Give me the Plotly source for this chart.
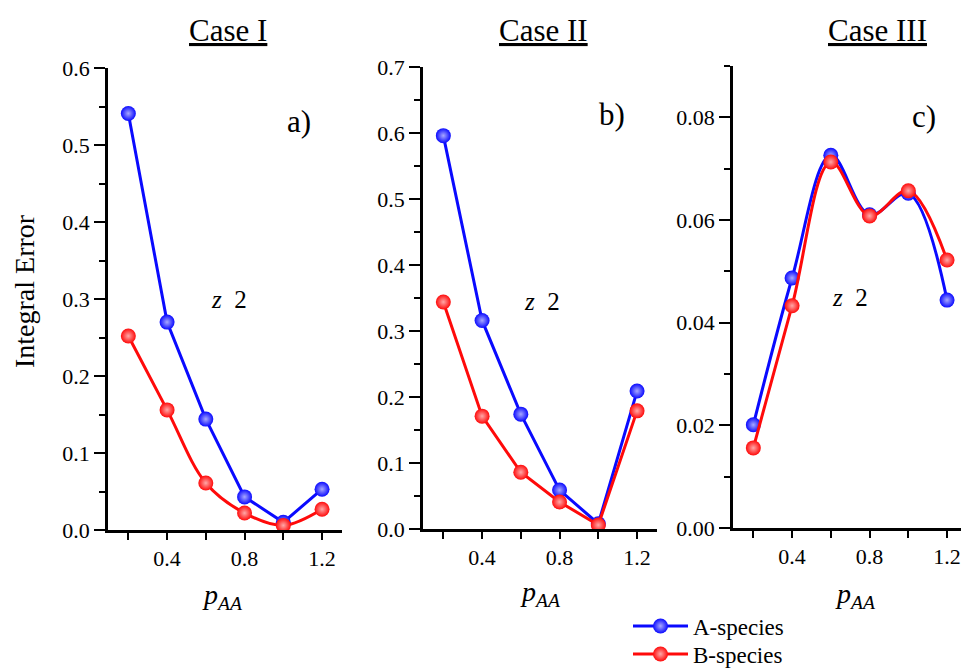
import plotly.graph_objects as go

# ---------------- data ----------------
p_AA = [0.2, 0.4, 0.6, 0.8, 1.0, 1.2]
case1_A = [0.541, 0.270, 0.144, 0.043, 0.010, 0.053]
case1_B = [0.252, 0.156, 0.061, 0.022, 0.006, 0.027]
case2_A = [0.596, 0.316, 0.174, 0.059, 0.008, 0.209]
case2_B = [0.344, 0.171, 0.086, 0.041, 0.006, 0.179]
case3_A = [0.0201, 0.0487, 0.0726, 0.0610, 0.0652, 0.0444]
case3_B = [0.0156, 0.0433, 0.0713, 0.0608, 0.0657, 0.0522]
x_tick_vals = [0.4, 0.8, 1.2]
x_tick_text = ["0.4", "0.8", "1.2"]
x_minor_vals = [0.2, 0.6, 1.0]
case_titles = ["Case I", "Case II", "Case III"]
panel_tags = ["a)", "b)", "c)"]
series_names = ["A-species", "B-species"]

W, H = 961, 670
FONT = "Liberation Serif, Times New Roman, Times, serif"
BLUE = "#0a0aff"
RED = "#ff0a0a"

panels = [
    dict(A=case1_A, B=case1_B, shapeA="linear", shapeB="spline",
         xpx=(108, 342), ypx=(68, 530), yr=(0, 0.6), dt=0.1, mdt=0.05, fmt=".1f",
         xr=(0.095, 1.303), rline=True),
    dict(A=case2_A, B=case2_B, shapeA="linear", shapeB="linear",
         xpx=(423, 657), ypx=(67, 529), yr=(0, 0.7), dt=0.1, mdt=0.05, fmt=".1f",
         xr=(0.095, 1.303), rline=True),
    dict(A=case3_A, B=case3_B, shapeA="spline", shapeB="spline",
         xpx=(733, 961), ypx=(66, 528), yr=(0, 0.09), dt=0.02, mdt=0.01, fmt=".2f",
         xr=(0.095, 1.272), rline=False),
]

fig = go.Figure()
layout = {}
tickfont = dict(family=FONT, size=22, color="black")

for i, p in enumerate(panels):
    n = i + 1
    xb, yl = f"x{n}", f"y{n}"
    xdom = [p["xpx"][0] / W, p["xpx"][1] / W]
    ydom = [1 - p["ypx"][1] / H, 1 - p["ypx"][0] / H]
    common = dict(showgrid=False, zeroline=False, linecolor="black", linewidth=2.5,
                  tickcolor="black", tickwidth=2, automargin=False)
    layout[f"xaxis{n}"] = dict(domain=xdom, range=list(p["xr"]), anchor=yl,
                               tickmode="array", tickvals=x_tick_vals, ticktext=x_tick_text,
                               ticks="outside", ticklen=7, showline=True, tickfont=tickfont,
                               minor=dict(tickmode="array", tickvals=x_minor_vals, ticks="outside",
                                          ticklen=7, tickwidth=2, tickcolor="black"),
                               **common)
    layout[f"xaxis{n+3}"] = dict(overlaying=xb, side="top", range=list(p["xr"]), anchor=yl,
                                 tickmode="array", tickvals=x_tick_vals, showticklabels=False,
                                 ticks="inside", ticklen=11, showline=True,
                                 minor=dict(tickmode="array", tickvals=x_minor_vals, ticks="inside",
                                            ticklen=11, tickwidth=2, tickcolor="black"),
                                 **common)
    layout[f"yaxis{n}"] = dict(domain=ydom, range=list(p["yr"]), anchor=xb,
                               tick0=0, dtick=p["dt"], tickformat=p["fmt"],
                               ticks="outside", ticklen=11, showline=True, tickfont=tickfont,
                               minor=dict(dtick=p["mdt"], tick0=0, ticks="outside", ticklen=6,
                                          tickwidth=2, tickcolor="black"),
                               **common)
    rlen, rmin = (12, 6) if p["rline"] else (8, 3)
    layout[f"yaxis{n+3}"] = dict(overlaying=yl, side="right", range=list(p["yr"]), anchor=xb,
                                 tick0=0, dtick=p["dt"], showticklabels=False,
                                 ticks="inside", ticklen=rlen, showline=p["rline"],
                                 minor=dict(dtick=p["mdt"], tick0=0, ticks="inside", ticklen=rmin,
                                            tickwidth=2, tickcolor="black"),
                                 **common)
    for key, color, shape, name, leg in [("A", BLUE, p["shapeA"], series_names[0], "legend"),
                                         ("B", RED, p["shapeB"], series_names[1], "legend2")]:
        fig.add_trace(go.Scatter(
            x=p_AA, y=p[key], xaxis=xb, yaxis=yl, mode="lines+markers", name=name,
            showlegend=(i == 0), legend=leg,
            line=dict(color=color, width=3, shape=shape),
            marker=dict(size=15, color=color,
                        gradient=dict(type="radial", color="#a8a8ff" if key == "A" else "#ffa8a8"),
                        line=dict(width=0)),
        ))

annotations = []
title_px = [(228, 30), (543, 30), (877, 30)]
tag_px = [(313, 121), (627, 115), (938, 117)]
z_px = [(229, 299), (542, 301), (850, 297)]
xlab_px = [(222, 596), (540, 593), (855, 595)]
for i in range(3):
    annotations.append(dict(text=f"<u>{case_titles[i]}</u>", x=title_px[i][0] / W, y=1 - title_px[i][1] / H,
                            xref="paper", yref="paper", xanchor="center", yanchor="middle",
                            showarrow=False, font=dict(family=FONT, size=31, color="black")))
    annotations.append(dict(text=panel_tags[i], x=tag_px[i][0] / W, y=1 - tag_px[i][1] / H,
                            xref="paper", yref="paper", xanchor="right", yanchor="middle",
                            showarrow=False, font=dict(family=FONT, size=31, color="black")))
    annotations.append(dict(text="<i>z</i>\u00a0\u00a02", x=z_px[i][0] / W, y=1 - z_px[i][1] / H,
                            xref="paper", yref="paper", xanchor="center", yanchor="middle",
                            showarrow=False, font=dict(family=FONT, size=25, color="black")))
    annotations.append(dict(text="<i>p</i><sub><i>AA</i></sub>", x=xlab_px[i][0] / W, y=1 - xlab_px[i][1] / H,
                            xref="paper", yref="paper", xanchor="center", yanchor="middle",
                            showarrow=False, font=dict(family=FONT, size=28, color="black")))
annotations.append(dict(text="Integral Error", x=24 / W, y=1 - 291 / H, xref="paper", yref="paper",
                        xanchor="center", yanchor="middle", textangle=-90, showarrow=False,
                        font=dict(family=FONT, size=28, color="black")))

legend_common = dict(xanchor="left", yanchor="middle",
                     font=dict(family=FONT, size=23, color="black"),
                     bgcolor="rgba(0,0,0,0)", itemwidth=55)

fig.update_layout(
    width=W, height=H,
    margin=dict(l=0, r=0, t=0, b=0, autoexpand=False),
    paper_bgcolor="white", plot_bgcolor="white",
    font=dict(family=FONT, color="black"),
    annotations=annotations,
    legend=dict(x=628 / W, y=1 - 626 / H, **legend_common),
    legend2=dict(x=628 / W, y=1 - 654 / H, **legend_common),
    **layout,
)

fig.write_html("out.html")
